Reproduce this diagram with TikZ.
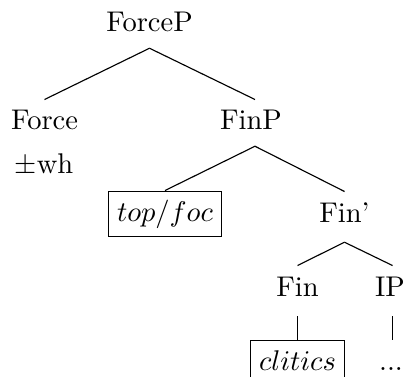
\documentclass[tikz,border=0pt]{standalone}
\begin{document}
\begin{tikzpicture}[x=0.351pt,y=-0.351pt,
  lbl/.style={anchor=base,inner sep=3pt,text height=7.5pt,text depth=2.5pt},
  boxed/.style={lbl,draw,line width=0.4pt},
  branch/.style={line width=0.4pt}]
\clip (0,0) rectangle (406,376);
% labels of the tree
\node[lbl] (forcep) at (149.5,32) {ForceP};
\node[lbl] (force) at (44.5,130) {Force};
\node[lbl] (wh) at (44,173) {$\pm$wh};
\node[lbl] (finp) at (251,130) {FinP};
\node[boxed] (topfoc) at (165,221) {$top/foc$};
\node[lbl] (finbar) at (344.5,222) {Fin'};
\node[lbl] (fin) at (297.5,296) {Fin};
\node[lbl] (ip) at (390,296) {IP};
\node[boxed] (clitics) at (297.5,370) {$clitics$};
\node[lbl] (dots) at (391,370) {...};
% branches
\draw[branch] (forcep.south) -- (force.north);
\draw[branch] (forcep.south) -- ([xshift=1.4pt]finp.north);
\draw[branch] ([xshift=1.4pt]finp.south) -- (topfoc.north);
\draw[branch] ([xshift=1.4pt]finp.south) -- (finbar.north);
\draw[branch] ([yshift=-1.4pt]finbar.south) -- (fin.north);
\draw[branch] ([yshift=-1.4pt]finbar.south) -- ([xshift=0.88pt]ip.north);
\draw[branch] ([yshift=-1.4pt]fin.south) -- (clitics.north);
\draw[branch] ([yshift=-1.4pt,xshift=0.88pt]ip.south) -- ([xshift=0.88pt]ip.south |- clitics.north);
\end{tikzpicture}
\end{document}
